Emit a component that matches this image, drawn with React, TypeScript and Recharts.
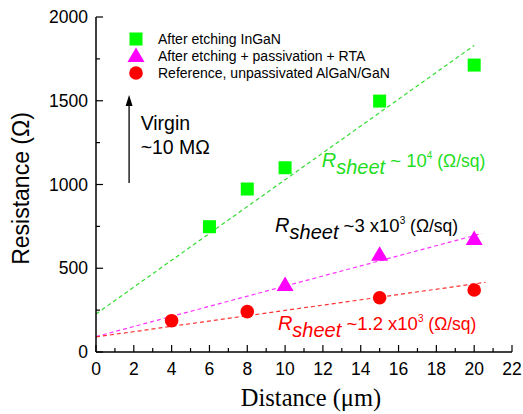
import React from "react";
import {
  ComposedChart,
  XAxis,
  YAxis,
  Scatter,
  Line,
  ReferenceDot,
  ReferenceLine,
} from "recharts";

// measured points (distance in um, resistance in ohm)
const ingaNX = [6, 8, 10, 15, 20];
const ingaNY = [748, 973, 1100, 1498, 1713];
const passX = [10, 15, 20];
const passY = [397, 578, 672];
const refX = [4, 8, 15, 20];
const refY = [187, 241, 324, 370];

// linear fits (dashed)
const fitGreenX = [0, 20];
const fitGreenY = [227, 1830];
const fitPassX = [0, 20.4];
const fitPassY = [92, 707];
const fitRefX = [0, 20.6];
const fitRefY = [90, 416];

const xTicks = [0, 1, 2, 3, 4, 5, 6, 7, 8, 9, 10, 11, 12, 13, 14, 15, 16, 17, 18, 19, 20, 21, 22];
const yTicks = [0, 250, 500, 750, 1000, 1250, 1500, 1750, 2000];

const legendItems = [
  { name: "After etching InGaN", shape: "square", color: "#00ff00" },
  { name: "After etching + passivation + RTA", shape: "triangle", color: "#ff00ff" },
  { name: "Reference, unpassivated AlGaN/GaN", shape: "circle", color: "#ff0000" },
];

const toPts = (xs: number[], ys: number[]) => xs.map((x, i) => ({ x, y: ys[i] }));

const SANS = "'Liberation Sans', Arial, sans-serif";
const SERIF = "'Liberation Serif', 'Times New Roman', serif";
const BOTTOM_MARGIN = 11;
const LEFT_MARGIN = 8;

const BottomTick = (p: any) => {
  const v = p.payload.value;
  const major = v % 2 === 0;
  const base = p.y - BOTTOM_MARGIN;
  return (
    <g>
      <line x1={p.x} x2={p.x} y1={base} y2={base - (major ? 7 : 4)} stroke="#000" strokeWidth={1.2} />
      {major && (
        <text x={p.x} y={p.y} dy="0.71em" textAnchor="middle" fontSize={17.5} fontFamily={SANS} fill="#000">
          {v}
        </text>
      )}
    </g>
  );
};

const TopTick = (p: any) => {
  const major = p.payload.value % 2 === 0;
  return <line x1={p.x} x2={p.x} y1={p.y} y2={p.y + (major ? 7 : 4)} stroke="#000" strokeWidth={1.2} />;
};

const LeftTick = (p: any) => {
  const v = p.payload.value;
  const major = v % 500 === 0;
  const base = p.x + LEFT_MARGIN;
  return (
    <g>
      <line x1={base} x2={base + (major ? 7 : 4)} y1={p.y} y2={p.y} stroke="#000" strokeWidth={1.2} />
      {major && (
        <text x={p.x} y={p.y} dy="0.355em" textAnchor="end" fontSize={17.5} fontFamily={SANS} fill="#000">
          {v}
        </text>
      )}
    </g>
  );
};

const RightTick = (p: any) => {
  const major = p.payload.value % 500 === 0;
  return <line x1={p.x} x2={p.x - (major ? 7 : 4)} y1={p.y} y2={p.y} stroke="#000" strokeWidth={1.2} />;
};

const Square = (p: any) => <rect x={p.cx - 6.5} y={p.cy - 6.5} width={13} height={13} fill="#00ff00" />;
const Triangle = (p: any) => (
  <polygon points={`${p.cx},${p.cy - 9} ${p.cx - 8.5},${p.cy + 5.5} ${p.cx + 8.5},${p.cy + 5.5}`} fill="#ff00ff" />
);
const Dot = (p: any) => <circle cx={p.cx} cy={p.cy} r={6.8} fill="#ff0000" />;

const Rsheet = ({ cx, cy, color, mid, sup }: any) => (
  <text x={cx} y={cy} fill={color} fontFamily={SANS}>
    <tspan fontStyle="italic" fontSize={20}>R</tspan>
    <tspan fontStyle="italic" fontSize={20} dy={7}>sheet</tspan>
    <tspan fontSize={18.5} dy={-7}>{mid}</tspan>
    <tspan fontSize={10} dy={-8}>{sup}</tspan>
    <tspan fontSize={17.5} dy={8}>{" (Ω/sq)"}</tspan>
  </text>
);

const LegendMarker = ({ shape, color }: any) => (
  <svg width={18} height={18} style={{ display: "block" }}>
    {shape === "square" && <rect x={2.5} y={2.5} width={13} height={13} fill={color} />}
    {shape === "triangle" && <polygon points="9,0.5 0.5,15 17.5,15" fill={color} />}
    {shape === "circle" && <circle cx={9} cy={9} r={6.8} fill={color} />}
  </svg>
);

export default function App() {
  return (
    <div style={{ position: "absolute", left: 0, top: 0, width: 523, height: 414, background: "#fff" }}>
      <ComposedChart width={523} height={414} margin={{ top: 17, right: 11, bottom: 0, left: 0 }}>
        <XAxis
          dataKey="x"
          type="number"
          domain={[0, 22]}
          ticks={xTicks}
          interval={0}
          tickLine={false}
          tickSize={0}
          tickMargin={BOTTOM_MARGIN}
          tick={<BottomTick />}
          height={62}
          axisLine={{ stroke: "#000", strokeWidth: 1.5 }}
          label={({ viewBox }: any) => (
            <text
              x={viewBox.x + viewBox.width / 2 + 7}
              y={viewBox.y + 54}
              textAnchor="middle"
              fontSize={24.5}
              fontFamily={SERIF}
              fill="#000"
            >
              Distance (μm)
            </text>
          )}
        />
        <XAxis
          xAxisId="top"
          orientation="top"
          dataKey="x"
          type="number"
          domain={[0, 22]}
          ticks={xTicks}
          interval={0}
          tickLine={false}
          tickSize={0}
          tickMargin={0}
          tick={<TopTick />}
          height={0}
          axisLine={{ stroke: "#000", strokeWidth: 1.5 }}
        />
        <YAxis
          type="number"
          domain={[0, 2000]}
          ticks={yTicks}
          interval={0}
          tickLine={false}
          tickSize={0}
          tickMargin={LEFT_MARGIN}
          tick={<LeftTick />}
          width={96}
          axisLine={{ stroke: "#000", strokeWidth: 1.5 }}
          label={({ viewBox }: any) => {
            const cx = viewBox.x + 21;
            const cy = viewBox.y + viewBox.height / 2 + 4;
            return (
              <text
                x={cx}
                y={cy}
                transform={`rotate(-90, ${cx}, ${cy})`}
                textAnchor="middle"
                dominantBaseline="central"
                fontSize={23}
                fontFamily={SANS}
                fill="#000"
              >
                Resistance (Ω)
              </text>
            );
          }}
        />
        <YAxis
          yAxisId="right"
          orientation="right"
          type="number"
          domain={[0, 2000]}
          ticks={yTicks}
          interval={0}
          tickLine={false}
          tickSize={0}
          tickMargin={0}
          tick={<RightTick />}
          width={0}
          axisLine={{ stroke: "#000", strokeWidth: 1.5 }}
        />

        <Line data={toPts(fitGreenX, fitGreenY)} dataKey="y" stroke="#33dd33" strokeWidth={1.2} strokeDasharray="4 3" dot={false} isAnimationActive={false} />
        <Line data={toPts(fitPassX, fitPassY)} dataKey="y" stroke="#ff33ff" strokeWidth={1.2} strokeDasharray="4 3" dot={false} isAnimationActive={false} />
        <Line data={toPts(fitRefX, fitRefY)} dataKey="y" stroke="#ff3333" strokeWidth={1.2} strokeDasharray="4 3" dot={false} isAnimationActive={false} />

        <Scatter data={toPts(ingaNX, ingaNY)} dataKey="y" shape={Square} isAnimationActive={false} />
        <Scatter data={toPts(passX, passY)} dataKey="y" shape={Triangle} isAnimationActive={false} />
        <Scatter data={toPts(refX, refY)} dataKey="y" shape={Dot} isAnimationActive={false} />

        <ReferenceLine segment={[{ x: 1.75, y: 1009 }, { x: 1.75, y: 1500 }]} stroke="#000" strokeWidth={1.3} />
        <ReferenceDot
          x={1.75}
          y={1534}
          r={0}
          shape={(p: any) => (
            <polygon points={`${p.cx},${p.cy} ${p.cx - 3.5},${p.cy + 11} ${p.cx + 3.5},${p.cy + 11}`} fill="#000" />
          )}
        />
        <ReferenceDot
          x={2.36}
          y={1325}
          r={0}
          shape={(p: any) => (
            <text x={p.cx} y={p.cy} fontSize={19.5} fontFamily={SANS} fill="#000">Virgin</text>
          )}
        />
        <ReferenceDot
          x={2.36}
          y={1182}
          r={0}
          shape={(p: any) => (
            <text x={p.cx} y={p.cy} fontSize={19.5} fontFamily={SANS} fill="#000">~10 MΩ</text>
          )}
        />
        <ReferenceDot x={11.94} y={1106} r={0} shape={(p: any) => <Rsheet cx={p.cx} cy={p.cy} color="#22dd22" mid=" ~ 10" sup="4" />} />
        <ReferenceDot x={9.47} y={718} r={0} shape={(p: any) => <Rsheet cx={p.cx} cy={p.cy} color="#000" mid=" ~3 x10" sup="3" />} />
        <ReferenceDot x={9.62} y={131} r={0} shape={(p: any) => <Rsheet cx={p.cx} cy={p.cy} color="#ff0000" mid=" ~1.2 x10" sup="3" />} />
      </ComposedChart>

      <div style={{ position: "absolute", left: 127, top: 30, fontFamily: SANS, fontSize: 14, color: "#000" }}>
        {legendItems.map((it) => (
          <div key={it.name} style={{ display: "flex", alignItems: "center", height: 17.3, whiteSpace: "nowrap" }}>
            <LegendMarker shape={it.shape} color={it.color} />
            <span style={{ marginLeft: 13 }}>{it.name}</span>
          </div>
        ))}
      </div>
    </div>
  );
}
